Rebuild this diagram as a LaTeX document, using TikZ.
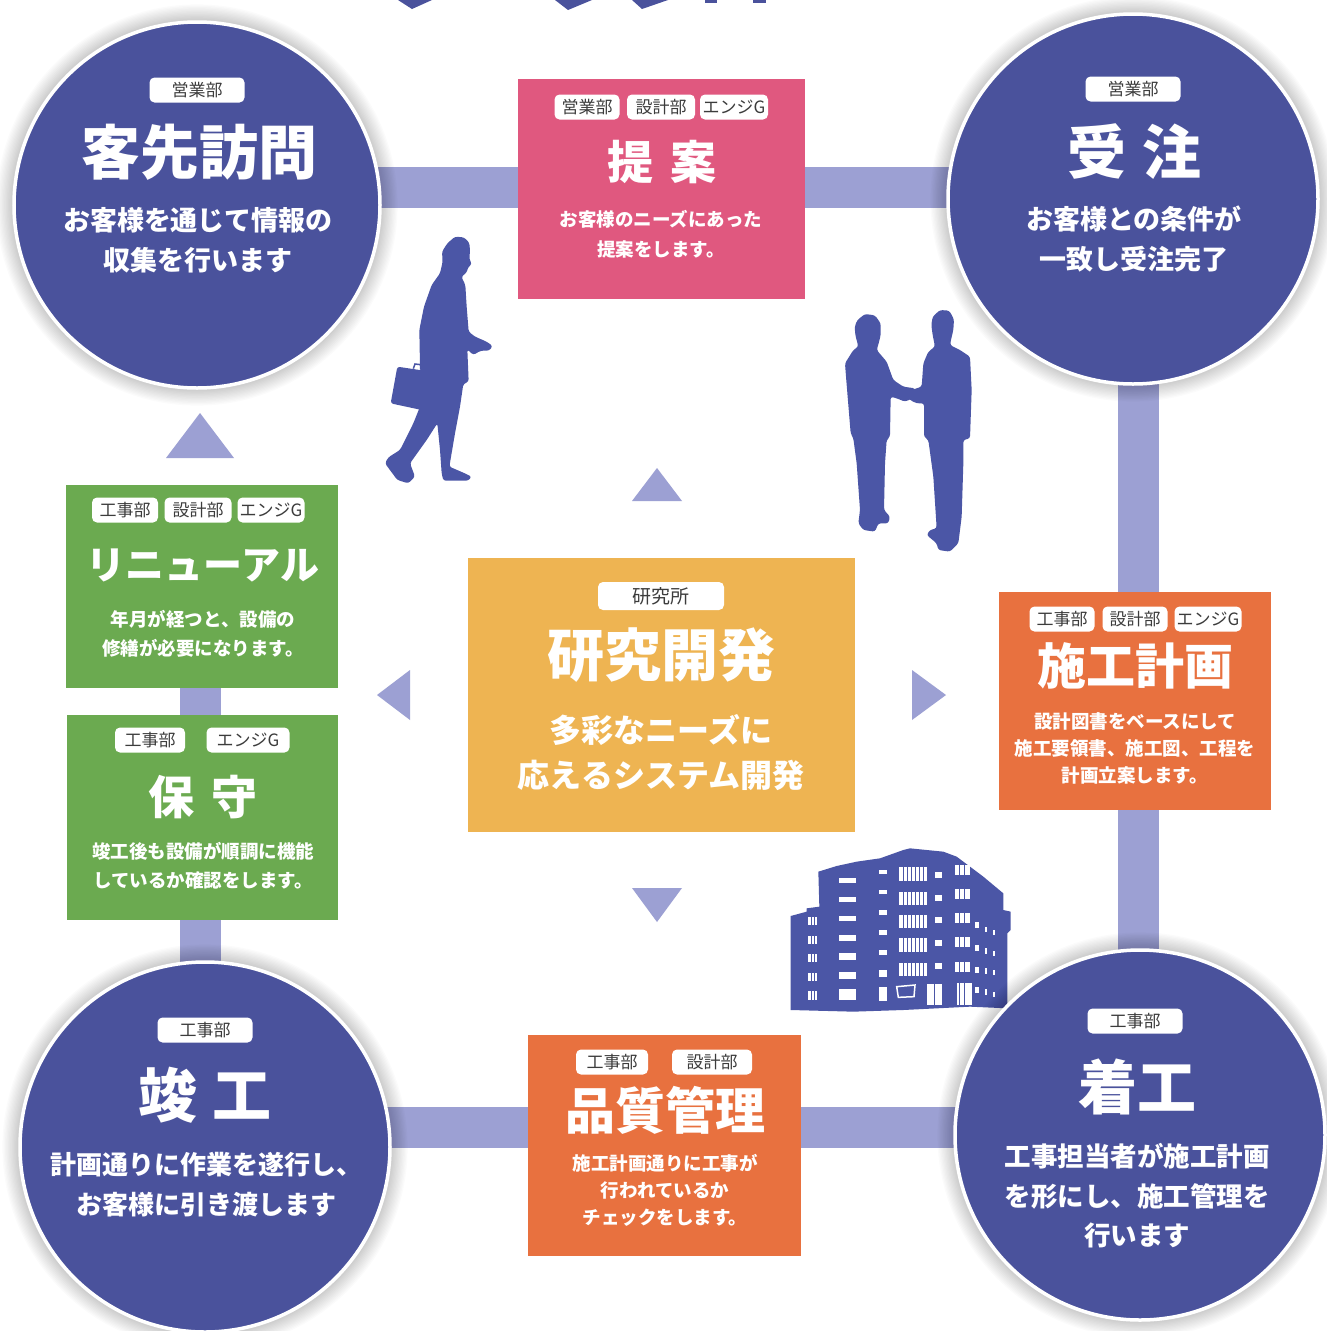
\documentclass[tikz,border=0pt]{standalone}
\usepackage{fontspec}
\setmainfont{Noto Sans CJK JP}
\definecolor{navy}{HTML}{4A529C}
\definecolor{figblue}{HTML}{4B56A6}
\definecolor{barblue}{HTML}{9CA0D3}
\definecolor{pinkbox}{HTML}{E0587F}
\definecolor{orangebox}{HTML}{E8713F}
\definecolor{greenbox}{HTML}{6BAA50}
\definecolor{yellowbox}{HTML}{EEB452}
\definecolor{tagtext}{HTML}{3C3C3C}
\begin{document}
\begin{tikzpicture}[x=1pt,y=-1pt,
  stage/.style={circle, fill=navy, draw=white, line width=3.5pt, inner sep=0pt, minimum size=#1},
  panel/.style 2 args={rectangle, inner sep=0pt, minimum width=#1, minimum height=#2},
  tag/.style={fill=white, rounded corners=5pt, text=tagtext, inner sep=0pt,
    font=\fontsize{17}{17}\selectfont, minimum height=25pt, minimum width=#1},
  bigtitle/.style={text=white, inner sep=0pt, font=\bfseries\fontsize{#1}{#1}\selectfont},
  body/.style 2 args={text=white, inner sep=0pt, align=center, font=\bfseries\fontsize{#1}{#2}\selectfont},
  linkbar/.style={draw=barblue, line width=41pt, line cap=butt},
  pointer/.style={fill=barblue},
  silhouette/.style={fill=figblue, rounded corners=2.5pt}
]
\useasboundingbox (0,0) rectangle (1326,1331);
\fill[white] (0,0) rectangle (1326,1331);

% fragments of the heading above the picture
\fill[navy] (398,0) -- (432,0) -- (412,9) -- cycle;
\fill[navy] (555,0) -- (592,0) -- (568,10) -- cycle;
\fill[navy] (632,0) -- (668,0) -- (642,9) -- cycle;
\fill[navy] (705,0) rectangle (717,3);
\fill[navy] (753,0) rectangle (766,3);

% anchors for the stage circles and panels
\coordinate (cvisit) at (197,205);
\coordinate (corder) at (1133,199);
\coordinate (cdone) at (205,1147);
\coordinate (cstart) at (1140,1135);
\coordinate (ytop) at (0,187);
\coordinate (ybot) at (0,1127);
\coordinate (xright) at (1138,0);
\coordinate (xleft) at (200,0);

% panels (placed first so the bars can refer to them)
\node[panel={272pt}{203pt}, fill=greenbox] (renewal) at (202,586.5) {};

% connecting bars
\draw[linkbar] (cvisit |- ytop) -- (corder |- ytop);
\draw[linkbar] (xright |- corder) -- (xright |- cstart);
\draw[linkbar] (cdone |- ybot) -- (cstart |- ybot);
\draw[linkbar] (xleft |- renewal.south) -- (xleft |- cdone);

% building
\begin{scope}[shift={(770,830)}, scale=1/3]
  \fill[figblue] (62,258) -- (110,245) -- (110,235) -- (148,230) -- (145,125) -- (200,108)
    -- (260,95) -- (330,85) -- (400,60) -- (420,55) -- (520,65) -- (560,80) -- (640,140)
    -- (700,190) -- (700,240) -- (722,245) -- (722,300) -- (712,310) -- (712,535)
    -- (600,530) -- (400,540) -- (250,545) -- (62,540) -- cycle;
  \foreach \y/\h in {262/24, 318/24, 372/24, 428/24, 482/28}
    \fill[white] (115,\y) rectangle (142,\y+\h);
  \foreach \y/\h in {145/14, 200/15, 257/15, 314/18, 370/20, 426/22, 478/32}
    \fill[white] (208,\y) rectangle (258,\y+\h);
  \foreach \y/\h in {120/12, 180/13, 240/15, 300/15, 360/15, 420/20, 470/42}
    \fill[white] (328,\y) rectangle (352,\y+\h);
  \foreach \y in {112, 185, 255, 325, 398}
    \fill[white] (388,\y) rectangle (470,\y+40);
  \foreach \y in {125, 195, 262, 330, 400}
    \fill[white] (495,\y) rectangle (515,\y+18);
  \foreach \y in {105, 178, 250, 322, 395}
    \fill[white] (555,\y) rectangle (600,\y+30);
  \fill[white] (470,462) rectangle (515,525);
  \fill[white] (560,460) rectangle (605,525);
  \draw[white, line width=1.5pt] (380,470) -- (435,465) -- (432,500) -- (385,502) -- cycle;
  \foreach \y in {275, 345, 410, 470}
    \fill[white] (615,\y) rectangle (628,\y+18);
  \foreach \y in {290, 355, 415, 478}
    \fill[white] (645,\y) rectangle (652,\y+16);
  \foreach \y in {300, 362, 420, 485}
    \fill[white] (668,\y) rectangle (674,\y+15);
  \foreach \x in {124, 133}
    \draw[figblue, line width=0.8pt] (\x,255) -- (\x,515);
  \foreach \x in {400, 412, 424, 436, 448, 460}
    \draw[figblue, line width=0.9pt] (\x,105) -- (\x,445);
  \foreach \x in {568, 582}
    \draw[figblue, line width=0.9pt] (\x,100) -- (\x,530);
  \draw[figblue, line width=0.9pt] (492,462) -- (492,525);
\end{scope}

% soft shadows round the stage circles
\foreach \c/\r in {cvisit/183, corder/185, cdone/185, cstart/185}{
  \foreach \k in {1,...,12}
    \fill[black, opacity=0.017] (\c) circle ({\r+2+\k*1.3 pt});
}

% stage circles
\node[stage=366pt] (visit) at (cvisit) {};
\node[stage=370pt] (order) at (corder) {};
\node[stage=370pt] (done) at (cdone) {};
\node[stage=370pt] (start) at (cstart) {};

% remaining panels
\node[panel={287pt}{220pt}, fill=pinkbox] (proposal) at (661.5,189) {};
\node[panel={272pt}{218pt}, fill=orangebox] (plan) at (1135,701) {};
\node[panel={271pt}{205pt}, fill=greenbox] (upkeep) at (202.5,817.5) {};
\node[panel={387pt}{274pt}, fill=yellowbox] (research) at (661.5,695) {};
\node[panel={273pt}{221pt}, fill=orangebox] (quality) at (664.5,1145.5) {};
\draw[linkbar] (xleft |- renewal.south) -- (xleft |- upkeep.north);

% direction triangles
\fill[pointer] (200,413) -- (234,458) -- (166,458) -- cycle;
\fill[pointer] (657,468) -- (682,501) -- (632,501) -- cycle;
\fill[pointer] (377,695) -- (410,670) -- (410,720) -- cycle;
\fill[pointer] (946,695) -- (912,670) -- (912,720) -- cycle;
\fill[pointer] (657,922) -- (682,888) -- (632,888) -- cycle;

% walking man with briefcase
\begin{scope}[shift={(360,220)}, scale=1/3]
  \fill[silhouette] (262,70) -- (285,50) -- (312,52) -- (328,68) -- (330,92) -- (328,118) -- (336,132)
    -- (324,142) -- (320,158) -- (304,170) -- (316,195) -- (320,260) -- (326,335)
    -- (345,350) -- (380,365) -- (398,378) -- (388,392) -- (362,392) -- (340,405)
    -- (322,388) -- (326,485) -- (310,492) -- (300,560) -- (285,640) -- (268,740)
    -- (310,758) -- (335,770) -- (325,782) -- (250,782) -- (245,760) -- (240,690)
    -- (232,610) -- (200,660) -- (150,730) -- (165,770) -- (145,790) -- (112,780)
    -- (75,730) -- (85,712) -- (120,690) -- (160,610) -- (180,560) -- (185,495)
    -- (180,440) -- (178,330) -- (192,260) -- (215,195) -- (240,160) -- (248,125)
    -- (246,95) -- cycle;
  \fill[silhouette] (112,440) -- (192,452) -- (185,570) -- (92,550) -- cycle;
  \draw[draw=figblue, line width=1.5pt] (160,446) -- (165,432) -- (182,434) -- (182,448);
\end{scope}

% two men shaking hands
\begin{scope}[shift={(820,290)}, scale=1/3]
  \fill[silhouette] (112,90) -- (135,72) -- (165,76) -- (182,100) -- (182,135) -- (176,160) -- (170,180) -- (200,215)
    -- (220,270) -- (250,290) -- (285,295) -- (290,320) -- (255,335) -- (230,325)
    -- (212,320) -- (210,440) -- (200,450) -- (195,520) -- (192,660) -- (210,680)
    -- (205,700) -- (175,700) -- (165,725) -- (130,720) -- (115,700) -- (120,660)
    -- (110,520) -- (100,445) -- (92,430) -- (78,260) -- (75,220) -- (100,180)
    -- (115,170) -- (106,135) -- (104,110) -- cycle;
  \fill[silhouette] (338,80) -- (360,60) -- (388,62) -- (402,88) -- (400,120) -- (394,145) -- (390,165) -- (420,180)
    -- (450,200) -- (455,300) -- (450,445) -- (430,450) -- (430,520) -- (425,680)
    -- (415,760) -- (390,785) -- (355,780) -- (350,760) -- (320,735) -- (330,720)
    -- (350,715) -- (340,560) -- (325,450) -- (312,440) -- (312,340) -- (290,340)
    -- (270,330) -- (258,315) -- (275,300) -- (305,290) -- (310,220) -- (325,185)
    -- (345,170) -- (338,135) -- (334,105) -- cycle;
\end{scope}

% ---- texts: visit
\node[tag=95pt] (visitTag) at (197,90) {営業部};
\node[bigtitle=59pt] (visitTitle) at (199,152) {客先訪問};
\node[body={27pt}{40pt}] (visitText) at (198,240) {お客様を通じて情報の\\収集を行います};

% ---- order
\node[tag=95pt] (orderTag) at (1133,89) {営業部};
\node[bigtitle=59pt] (orderTitle) at (1134,152) {受\hspace{16pt}注};
\node[body={27pt}{40pt}] (orderText) at (1134,239) {お客様との条件が\\一致し受注完了};

% ---- completion
\node[tag=95pt] (doneTag) at (205,1030) {工事部};
\node[bigtitle=59pt] (doneTitle) at (205,1095) {竣\hspace{16pt}工};
\node[body={26pt}{40pt}] (doneText) at (206,1185) {計画通りに作業を遂行し、\\お客様に引き渡します};

% ---- start of works
\node[tag=95pt] (startTag) at (1135,1021) {工事部};
\node[bigtitle=59pt] (startTitle) at (1137,1087) {着工};
\node[body={26.5pt}{39.5pt}] (startText) at (1137,1196) {工事担当者が施工計画\\を形にし、施工管理を\\行います};

% ---- proposal
\node[tag=65pt] (propTagA) at (587,107) {営業部};
\node[tag=68pt] (propTagB) at (661,107) {設計部};
\node[tag=68pt] (propTagC) at (734,107) {エンジG};
\node[bigtitle=46pt] (propTitle) at (662,162) {提\hspace{18pt}案};
\node[body={18.5pt}{30pt}] (propText) at (661,234) {お客様のニーズにあった\\提案をします。};

% ---- construction plan
\node[tag=65pt] (planTagA) at (1062,619) {工事部};
\node[tag=65pt] (planTagB) at (1135,619) {設計部};
\node[tag=67pt] (planTagC) at (1208,619) {エンジG};
\node[bigtitle=49pt] (planTitle) at (1135,666) {施工計画};
\node[body={18.5pt}{27pt}] (planText) at (1135,748) {設計図書をベースにして\\施工要領書、施工図、工程を\\計画立案します。};

% ---- renewal
\node[tag=66pt] (renTagA) at (125,510) {工事部};
\node[tag=67pt] (renTagB) at (198,510) {設計部};
\node[tag=67pt] (renTagC) at (271,510) {エンジG};
\node[bigtitle=39pt] (renTitle) at (203,565) {リニューアル};
\node[body={18.5pt}{29pt}] (renText) at (203,633.5) {年月が経つと、設備の\\修繕が必要になります。};

% ---- maintenance
\node[tag=70pt] (upTagA) at (150,740) {工事部};
\node[tag=83pt] (upTagB) at (248,740) {エンジG};
\node[bigtitle=46pt] (upTitle) at (203,797) {保\hspace{18pt}守};
\node[body={18.5pt}{29pt}] (upText) at (203,865.5) {竣工後も設備が順調に機能\\しているか確認をします。};

% ---- research and development
\node[tag=126pt, minimum height=28pt, font=\fontsize{19}{19}\selectfont] (resTag) at (661,596) {研究所};
\node[bigtitle=57pt] (resTitle) at (661,655) {研究開発};
\node[body={32pt}{45pt}] (resText) at (661,752.5) {多彩なニーズに\\応えるシステム開発};

% ---- quality control
\node[tag=72pt] (qualTagA) at (612,1062) {工事部};
\node[tag=80pt] (qualTagB) at (712,1062) {設計部};
\node[bigtitle=50pt] (qualTitle) at (665,1110) {品質管理};
\node[body={18.5pt}{27pt}] (qualText) at (665,1190) {施工計画通りに工事が\\行われているか\\チェックをします。};
\end{tikzpicture}
\end{document}
